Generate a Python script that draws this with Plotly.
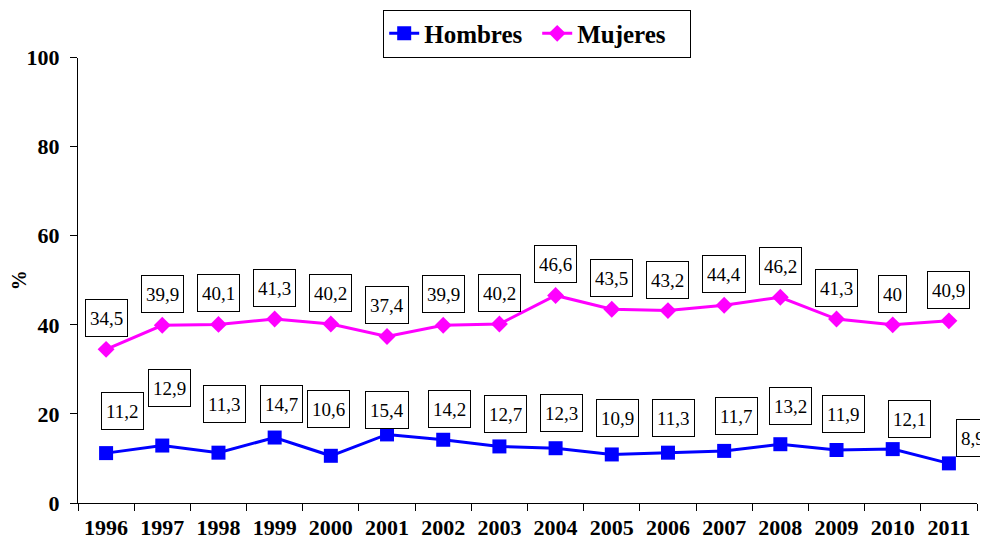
import plotly.graph_objects as go

# Datos
years = [str(y) for y in range(1996, 2012)]
hombres = [11.2, 12.9, 11.3, 14.7, 10.6, 15.4, 14.2, 12.7, 12.3, 10.9, 11.3, 11.7, 13.2, 11.9, 12.1, 8.9]
mujeres = [34.5, 39.9, 40.1, 41.3, 40.2, 37.4, 39.9, 40.2, 46.6, 43.5, 43.2, 44.4, 46.2, 41.3, 40.0, 40.9]

# desplazamiento de etiquetas (px), como en el original de Excel
h_dx = [16, 7, 6, 7, -2, 0, 6, 6, 6, 6, 6, 12, 10, 7, 17, 24]
h_dy = [42, 58, 49, 34, 47, 24, 31, 32, 35, 36, 35, 35, 38, 36, 30, 25]
m_dx = [0] * 16
m_dy = [31] * 16

SERIF = "Times New Roman, Liberation Serif, serif"


def fmt(v):
    s = f"{v:.1f}".replace(".", ",")
    return s[:-2] if s.endswith(",0") else s


fig = go.Figure()
fig.add_trace(go.Scatter(
    x=years, y=hombres, name="Hombres", mode="lines+markers",
    line=dict(color="#0000FF", width=3),
    marker=dict(symbol="square", size=14, color="#0000FF"),
))
fig.add_trace(go.Scatter(
    x=years, y=mujeres, name="Mujeres", mode="lines+markers",
    line=dict(color="#FF00FF", width=3),
    marker=dict(symbol="diamond", size=13, color="#FF00FF"),
))

# en eje de categorías la anotación va por índice de categoría
for vals, dx, dy in [(hombres, h_dx, h_dy), (mujeres, m_dx, m_dy)]:
    for i, (v, sx, sy) in enumerate(zip(vals, dx, dy)):
        fig.add_annotation(
            x=i, y=v, xref="x", yref="y", text=fmt(v), showarrow=False,
            xshift=sx, yshift=sy,
            font=dict(family=SERIF, size=19, color="black"),
            bgcolor="white", bordercolor="black", borderwidth=1,
            borderpad=4, height=28,
        )

# la página html tiene 8 px de margen en el body
fig.update_layout(
    width=980, height=541,
    paper_bgcolor="white", plot_bgcolor="white",
    margin=dict(l=70, r=11, t=48, b=46),
    font=dict(family=SERIF, color="black"),
    showlegend=True,
    legend=dict(
        orientation="h", xref="container", yref="container",
        x=0.54, xanchor="center", y=0.997, yanchor="top",
        entrywidth=108,
        bordercolor="black", borderwidth=1, bgcolor="white",
        font=dict(family=SERIF, size=25, color="black", weight="bold"),
    ),
    xaxis=dict(
        type="category", range=[-0.5, 15.5], automargin=False,
        showline=True, linecolor="black", linewidth=1,
        ticks="outside", ticklen=7, tickcolor="black", tickson="boundaries",
        ticklabelstandoff=5,
        showgrid=False, zeroline=False,
        tickfont=dict(family=SERIF, size=22, color="black", weight="bold"),
    ),
    yaxis=dict(
        range=[0, 100], dtick=20, automargin=False,
        showline=True, linecolor="black", linewidth=1,
        ticks="outside", ticklen=7, tickcolor="black",
        ticklabelstandoff=6,
        showgrid=False, zeroline=False,
        tickfont=dict(family=SERIF, size=22, color="black", weight="bold"),
        title=dict(text="%", font=dict(family=SERIF, size=20, color="black", weight="bold"), standoff=14),
    ),
)

fig.write_html("out.html")
